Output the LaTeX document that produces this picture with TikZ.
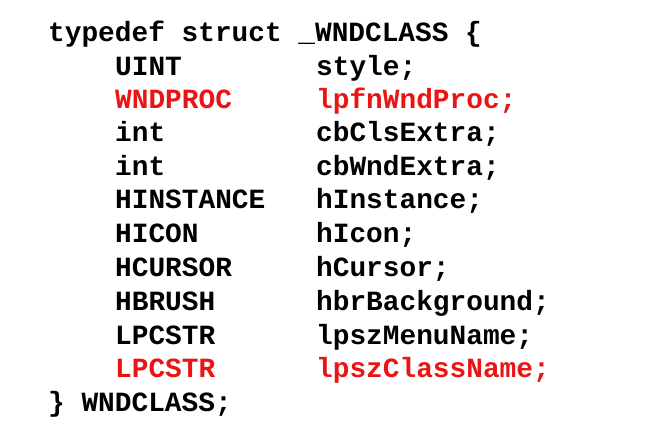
\documentclass[tikz,border=0pt]{standalone}
\usepackage{fontspec}
\setmonofont{Liberation Mono}
\definecolor{cred}{RGB}{235,20,20}
\begin{document}
\begin{tikzpicture}[x=1pt,y=-1pt,
  code/.style={anchor=base west,inner sep=0pt,font=\ttfamily\bfseries\fontsize{27.8}{30}\selectfont},
  hl/.style={code,text=cred}]
\useasboundingbox (0,0) rectangle (661,426);
\def\ty{115}\def\fx{316}
\node[code] (l0) at (48,41) {typedef struct \_WNDCLASS \{};
\node[code] (t1) at (\ty,75) {UINT}; \node[code] (f1) at (\fx,75) {style;};
\node[hl] (t2) at (\ty,108) {WNDPROC}; \node[hl] (f2) at (\fx,108) {lpfnWndProc;};
\node[code] (t3) at (\ty,141) {int}; \node[code] (f3) at (\fx,141) {cbClsExtra;};
\node[code] (t4) at (\ty,175) {int}; \node[code] (f4) at (\fx,175) {cbWndExtra;};
\node[code] (t5) at (\ty,208) {HINSTANCE}; \node[code] (f5) at (\fx,208) {hInstance;};
\node[code] (t6) at (\ty,242) {HICON}; \node[code] (f6) at (\fx,242) {hIcon;};
\node[code] (t7) at (\ty,276) {HCURSOR}; \node[code] (f7) at (\fx,276) {hCursor;};
\node[code] (t8) at (\ty,310) {HBRUSH}; \node[code] (f8) at (\fx,310) {hbrBackground;};
\node[code] (t9) at (\ty,344) {LPCSTR}; \node[code] (f9) at (\fx,344) {lpszMenuName;};
\node[hl] (t10) at (\ty,377) {LPCSTR}; \node[hl] (f10) at (\fx,377) {lpszClassName;};
\node[code] (l11) at (48,411) {\} WNDCLASS;};
\end{tikzpicture}
\end{document}
